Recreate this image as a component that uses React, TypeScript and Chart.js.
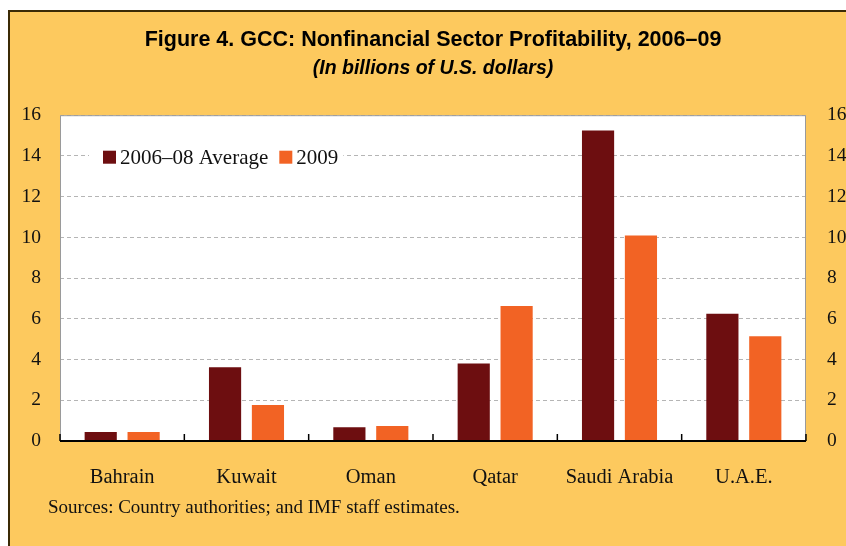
import React, { useEffect, useRef } from 'react';
import { Chart, registerables } from 'chart.js';

Chart.register(...registerables);

const categories = ['Bahrain', 'Kuwait', 'Oman', 'Qatar', 'Saudi Arabia', 'U.A.E.'];
const avg2006to08 = [0.44, 3.62, 0.67, 3.81, 15.25, 6.25];
const values2009 = [0.44, 1.77, 0.74, 6.63, 10.09, 5.15];
const seriesLabels = ['2006–08 Average', '2009'];
const seriesColors = ['#6D0E10', '#F26324'];
const yMin = 0;
const yMax = 16;
const yStep = 2;
const titleText = 'Figure 4. GCC: Nonfinancial Sector Profitability, 2006–09';
const subtitleText = '(In billions of U.S. dollars)';
const sourceText = 'Sources: Country authorities; and IMF staff estimates.';

const SERIF = "'Liberation Serif', 'DejaVu Serif', serif";
const SANS = "'Liberation Sans', Arial, sans-serif";
const BG = '#FDC95E';
const CANVAS_W = 866;
const CANVAS_H = 546;

const decorPlugin = {
  id: 'decor',
  beforeDraw(chart: any) {
    const { ctx, chartArea, width, height } = chart;
    ctx.save();
    ctx.fillStyle = '#ffffff';
    ctx.fillRect(0, 0, width, height);
    ctx.fillStyle = BG;
    ctx.fillRect(8, 10, width - 8, height - 10);
    ctx.fillStyle = '#3b2a05';
    ctx.fillRect(8, 10, width - 8, 2);
    ctx.fillRect(8, 10, 2, height - 10);
    ctx.fillStyle = '#ffffff';
    ctx.fillRect(chartArea.left, chartArea.top, chartArea.right - chartArea.left, chartArea.bottom - chartArea.top);
    ctx.restore();
  },
  beforeDatasetsDraw(chart: any) {
    const { ctx, chartArea } = chart;
    ctx.save();
    ctx.font = `21px ${SERIF}`;
    ctx.textBaseline = 'middle';
    const startX = chartArea.left + 43;
    const cy = chartArea.top + 42;
    const box = 13;
    let x = startX;
    const items: { x: number; color: string; label: string; w: number }[] = [];
    chart.data.datasets.forEach((ds: any) => {
      const w = ctx.measureText(ds.label).width;
      items.push({ x, color: ds.backgroundColor, label: ds.label, w });
      x += box + 4 + w + 11;
    });
    const rightEdge = x - 11 + 5;
    ctx.fillStyle = '#ffffff';
    ctx.fillRect(startX - 14, cy - 12, rightEdge - (startX - 14), 24);
    items.forEach((it) => {
      ctx.fillStyle = it.color;
      ctx.fillRect(it.x, cy - box / 2, box, box);
      ctx.fillStyle = '#111';
      ctx.textAlign = 'left';
      ctx.fillText(it.label, it.x + box + 4, cy + 1);
    });
    ctx.restore();
  },
  afterDatasetsDraw(chart: any) {
    const { ctx, chartArea } = chart;
    const xs = chart.scales.x;
    ctx.save();
    ctx.strokeStyle = '#9a9a9a';
    ctx.lineWidth = 1;
    ctx.beginPath();
    ctx.moveTo(chartArea.left + 0.5, chartArea.bottom);
    ctx.lineTo(chartArea.left + 0.5, chartArea.top + 0.5);
    ctx.lineTo(chartArea.right - 0.5, chartArea.top + 0.5);
    ctx.lineTo(chartArea.right - 0.5, chartArea.bottom);
    ctx.stroke();
    ctx.strokeStyle = '#000';
    ctx.lineWidth = 1.5;
    const n = categories.length;
    for (let i = 0; i <= n; i++) {
      const bx = xs.getPixelForValue(i - 0.5);
      ctx.beginPath();
      ctx.moveTo(bx, chartArea.bottom);
      ctx.lineTo(bx, chartArea.bottom - 7);
      ctx.stroke();
    }
    ctx.lineWidth = 2;
    ctx.beginPath();
    ctx.moveTo(chartArea.left, chartArea.bottom);
    ctx.lineTo(chartArea.right, chartArea.bottom);
    ctx.stroke();
    ctx.restore();
  },
  afterDraw(chart: any) {
    const { ctx } = chart;
    ctx.save();
    ctx.font = `19px ${SERIF}`;
    ctx.fillStyle = '#111';
    ctx.textAlign = 'left';
    ctx.textBaseline = 'middle';
    ctx.fillText(sourceText, 48, 508);
    ctx.restore();
  },
};

export default function App() {
  const canvasRef = useRef<HTMLCanvasElement | null>(null);

  useEffect(() => {
    if (!canvasRef.current) return;
    const chart = new Chart(canvasRef.current, {
      type: 'bar',
      data: {
        labels: categories,
        datasets: [
          { label: seriesLabels[0], data: avg2006to08, backgroundColor: seriesColors[0], yAxisID: 'y' },
          { label: seriesLabels[1], data: values2009, backgroundColor: seriesColors[1], yAxisID: 'y' },
        ],
      },
      options: {
        responsive: false,
        animation: false,
        devicePixelRatio: 1,
        layout: { padding: { left: 0, right: 0, top: 0, bottom: 0 } },
        datasets: { bar: { categoryPercentage: 0.69, barPercentage: 0.75 } },
        plugins: {
          legend: { display: false },
          tooltip: { enabled: false },
          title: {
            display: true,
            text: titleText,
            color: '#000',
            font: { family: SANS, size: 21.5, weight: 'bold' },
            padding: { top: 27, bottom: 0 },
          },
          subtitle: {
            display: true,
            text: subtitleText,
            color: '#000',
            font: { family: SANS, size: 19.5, weight: 'bold', style: 'italic' },
            padding: { top: 4, bottom: 35 },
          },
        },
        scales: {
          x: {
            type: 'category',
            grid: { display: false },
            border: { display: false },
            ticks: { color: '#111', font: { family: SERIF, size: 20.5 }, padding: 16, maxRotation: 0 },
            afterFit: (s: any) => { s.height = 105; },
          },
          y: {
            position: 'left',
            min: yMin,
            max: yMax,
            ticks: { stepSize: yStep, color: '#111', font: { family: SERIF, size: 19.5 }, padding: 19 },
            grid: { color: '#b5b5b5', lineWidth: 1, drawTicks: false },
            border: { display: false, dash: [4, 3] },
            afterFit: (s: any) => { s.width = 60; },
          },
          y2: {
            position: 'right',
            min: yMin,
            max: yMax,
            ticks: { stepSize: yStep, color: '#111', font: { family: SERIF, size: 19.5 }, padding: 21 },
            grid: { display: false, drawTicks: false },
            border: { display: false },
            afterFit: (s: any) => { s.width = 60; },
          },
        },
      } as any,
      plugins: [decorPlugin],
    });
    return () => chart.destroy();
  }, []);

  return (
    <div style={{ position: 'fixed', left: 0, top: 0, width: 846, height: 546, overflow: 'hidden', background: '#fff' }}>
      <canvas ref={canvasRef} width={CANVAS_W} height={CANVAS_H} style={{ display: 'block' }} />
    </div>
  );
}
